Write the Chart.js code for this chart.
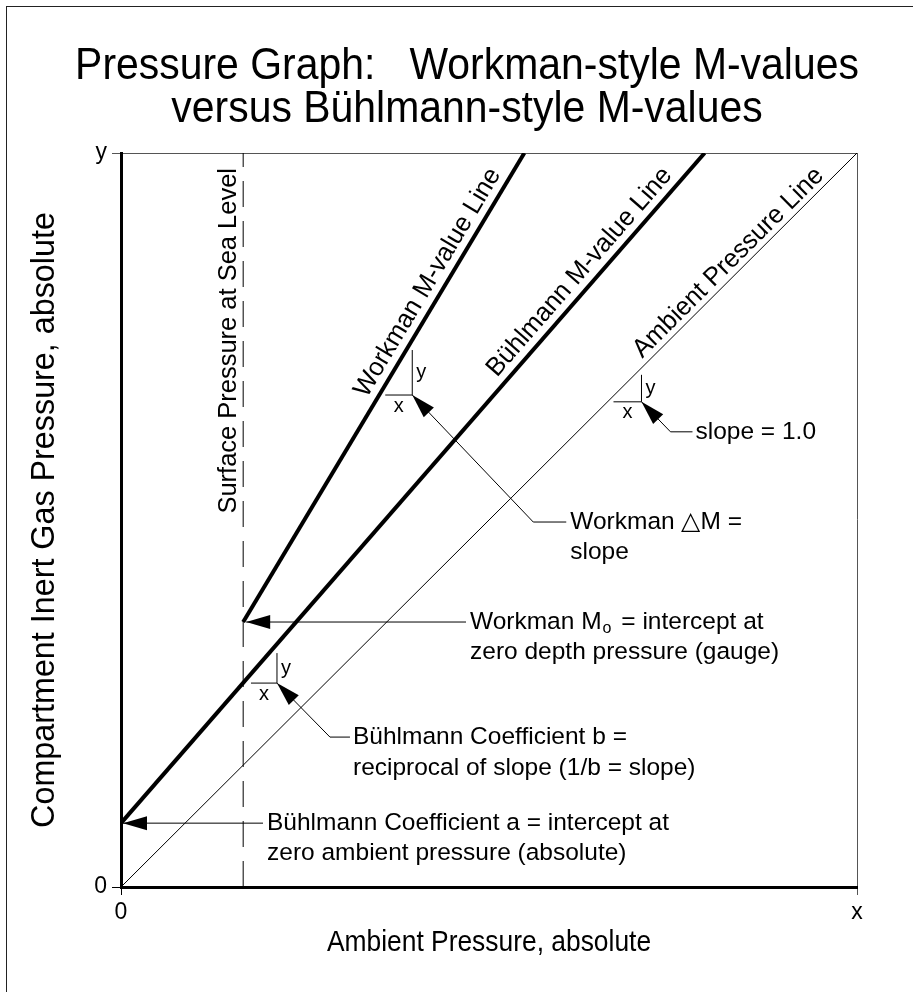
<!DOCTYPE html>
<html>
<head>
<meta charset="utf-8">
<title>Pressure Graph: Workman-style vs Bühlmann-style M-values</title>
<script src="https://cdn.jsdelivr.net/npm/chart.js@4.4.1/dist/chart.umd.min.js"></script>
<style>
  html, body { margin: 0; padding: 0; background: #fff; }
  canvas { display: block; }
</style>
</head>
<body>
<canvas id="pressureChart" width="913" height="992"></canvas>
<script>
// axes run 0..10 in arbitrary pressure units (the diagram has no scale)
const axisMin = 0;
const axisMax = 10;
const xTickValues = [0, 10];
const xTickLabels = ["0", "x"];
const yTickValues = [0, 10];
const yTickLabels = ["0", "y"];

const ambientX = [0, 10];
const ambientY = [0, 10];
const buhlmannX = [0, 7.93];
const buhlmannY = [0.87, 10];
const workmanX = [1.66, 5.48];
const workmanY = [3.61, 10];
const surfaceX = [1.66, 1.66];
const surfaceY = [0, 10];

const titleLines = [
  "Pressure Graph:   Workman-style M-values",
  "versus Bühlmann-style M-values",
];
const xTitle = "Ambient Pressure, absolute";
const yTitle = "Compartment Inert Gas Pressure, absolute";

const FONT = '"Liberation Sans", Arial, sans-serif';
Chart.defaults.font.family = FONT;
Chart.defaults.color = "#000";

const toPoints = (xs, ys) => xs.map((x, i) => ({ x: x, y: ys[i] }));

// ---- drawing helpers for titles and call-outs ----
const toPx = (chart, x, y) => ({
  x: chart.scales.x.getPixelForValue(x),
  y: chart.scales.y.getPixelForValue(y),
});
const alongLine = (chart, xs, ys, t) =>
  toPx(chart, xs[0] + (xs[1] - xs[0]) * t, ys[0] + (ys[1] - ys[0]) * t);

// text squeezed horizontally, like the narrow face of the original
function narrowText(ctx, text, x, y, size, sx, rot, align, baseline) {
  ctx.save();
  ctx.translate(x, y);
  ctx.rotate(rot);
  ctx.scale(sx, 1);
  ctx.font = size + "px " + FONT;
  ctx.textAlign = align;
  ctx.textBaseline = baseline;
  ctx.fillText(text, 0, 0);
  ctx.restore();
}

function arrowHead(ctx, tip, from, len, half) {
  const dx = tip.x - from.x, dy = tip.y - from.y;
  const d = Math.hypot(dx, dy);
  const ux = dx / d, uy = dy / d;
  const bx = tip.x - ux * len, by = tip.y - uy * len;
  ctx.beginPath();
  ctx.moveTo(tip.x, tip.y);
  ctx.lineTo(bx - uy * half, by + ux * half);
  ctx.lineTo(bx + uy * half, by - ux * half);
  ctx.closePath();
  ctx.fill();
}

function leader(ctx, pts) {
  ctx.beginPath();
  ctx.moveTo(pts[0].x, pts[0].y);
  pts.slice(1).forEach((p) => ctx.lineTo(p.x, p.y));
  ctx.stroke();
  arrowHead(ctx, pts[0], pts[1], 24, 7);
}

function slopeMarker(ctx, corner, hLen, vLen) {
  ctx.beginPath();
  ctx.moveTo(corner.x - hLen, corner.y);
  ctx.lineTo(corner.x, corner.y);
  ctx.lineTo(corner.x, corner.y - vLen);
  ctx.stroke();
  ctx.font = "20px " + FONT;
  ctx.textBaseline = "middle";
  ctx.textAlign = "center";
  ctx.fillText("x", corner.x - hLen / 2, corner.y + 11);
  ctx.textAlign = "left";
  ctx.fillText("y", corner.x + 4, corner.y - vLen / 2);
}

function textLines(ctx, lines, x, y, gap) {
  ctx.textAlign = "left";
  ctx.textBaseline = "middle";
  lines.forEach((parts, i) => {
    let cx = x;
    parts.forEach((p) => {
      ctx.font = (p.sub ? "16px " : "24.5px ") + FONT;
      cx += p.before || 0;
      ctx.fillText(p.text, cx, y + i * gap + (p.sub ? 7 : 0));
      cx += ctx.measureText(p.text).width + (p.after || 0);
    });
  });
}

function lineLabel(ctx, chart, text, xs, ys, t, offset) {
  const a = toPx(chart, xs[0], ys[0]);
  const b = toPx(chart, xs[1], ys[1]);
  const ang = Math.atan2(b.y - a.y, b.x - a.x);
  const p = alongLine(chart, xs, ys, t);
  narrowText(ctx, text, p.x + Math.sin(ang) * offset, p.y - Math.cos(ang) * offset,
    26, 0.98, ang, "right", "alphabetic");
}

const paperPlugin = {
  id: "paper",
  beforeDraw(chart) {
    const ctx = chart.ctx;
    ctx.save();
    ctx.fillStyle = "#fff";
    ctx.fillRect(0, 0, chart.width, chart.height);
    ctx.strokeStyle = "#222";
    ctx.lineWidth = 1;
    ctx.strokeRect(6.5, 6.5, chart.width + 20, chart.height + 20);
    ctx.restore();
  },
};

const titlesPlugin = {
  id: "titles",
  afterDraw(chart) {
    const ctx = chart.ctx;
    const area = chart.chartArea;
    ctx.save();
    ctx.fillStyle = "#000";
    narrowText(ctx, titleLines[0], 467, 79, 44, 0.93, 0, "center", "alphabetic");
    narrowText(ctx, titleLines[1], 467, 122, 44, 0.93, 0, "center", "alphabetic");
    narrowText(ctx, xTitle, (area.left + area.right) / 2, 943, 29, 0.91, 0, "center", "middle");
    narrowText(ctx, yTitle, 45, (area.top + area.bottom) / 2, 34, 0.95, -Math.PI / 2, "center", "middle");
    ctx.restore();
  },
};

const calloutPlugin = {
  id: "callouts",
  afterDatasetsDraw(chart) {
    const ctx = chart.ctx;
    ctx.save();
    ctx.fillStyle = "#000";
    ctx.strokeStyle = "#000";
    ctx.lineWidth = 1;

    // labels running along the lines
    lineLabel(ctx, chart, "Workman M-value Line", workmanX, workmanY, 0.945, 9);
    lineLabel(ctx, chart, "Bühlmann M-value Line", buhlmannX, buhlmannY, 0.957, 9);
    lineLabel(ctx, chart, "Ambient Pressure Line", ambientX, ambientY, 0.962, 6);

    // surface pressure label beside the dashed line
    const top = toPx(chart, surfaceX[1], surfaceY[1]);
    narrowText(ctx, "Surface Pressure at Sea Level", top.x - 7, top.y + 15, 26, 0.98,
      -Math.PI / 2, "right", "alphabetic");

    // slope triangles with their call-outs
    const wPt = alongLine(chart, workmanX, workmanY, 0.484);
    const wC = { x: wPt.x + 33, y: wPt.y };
    slopeMarker(ctx, wC, 27, 45);
    leader(ctx, [wC, { x: wC.x + 121, y: wC.y + 127 }, { x: wC.x + 154, y: wC.y + 127 }]);
    textLines(ctx, [[{ text: "Workman △M =" }], [{ text: "slope" }]], wC.x + 158, wC.y + 127, 30);

    const aPt = alongLine(chart, ambientX, ambientY, 0.661);
    const aC = { x: aPt.x + 34, y: aPt.y };
    slopeMarker(ctx, aC, 28, 27);
    leader(ctx, [aC, { x: aC.x + 29, y: aC.y + 30 }, { x: aC.x + 51, y: aC.y + 30 }]);
    textLines(ctx, [[{ text: "slope = 1.0" }]], aC.x + 54, aC.y + 30, 30);

    const bPt = alongLine(chart, buhlmannX, buhlmannY, 0.209);
    const bC = { x: bPt.x + 34, y: bPt.y };
    slopeMarker(ctx, bC, 26, 30);
    leader(ctx, [bC, { x: bC.x + 53, y: bC.y + 54 }, { x: bC.x + 73, y: bC.y + 54 }]);
    textLines(ctx, [
      [{ text: "Bühlmann Coefficient b =" }],
      [{ text: "reciprocal of slope (1/b = slope)" }],
    ], bC.x + 76, bC.y + 54, 31);

    // intercept call-outs
    const mo = toPx(chart, workmanX[0], workmanY[0]);
    const moTip = { x: mo.x + 3, y: mo.y };
    leader(ctx, [moTip, { x: 466, y: moTip.y }]);
    textLines(ctx, [
      [{ text: "Workman M" }, { text: "o", sub: true, before: 1, after: 3 }, { text: " = intercept at" }],
      [{ text: "zero depth pressure (gauge)" }],
    ], 470, moTip.y, 30);

    const ba = toPx(chart, buhlmannX[0], buhlmannY[0]);
    const baTip = { x: ba.x + 2, y: ba.y };
    leader(ctx, [baTip, { x: 263, y: baTip.y }]);
    textLines(ctx, [
      [{ text: "Bühlmann Coefficient a = intercept at" }],
      [{ text: "zero ambient pressure (absolute)" }],
    ], 267, baTip.y, 30);

    ctx.restore();
  },
};

const gridColor = (c) => (c.tick && c.tick.value === 0 ? "#000" : "#555");

new Chart(document.getElementById("pressureChart").getContext("2d"), {
  type: "scatter",
  data: {
    datasets: [
      { label: "Ambient Pressure Line", data: toPoints(ambientX, ambientY), showLine: true, borderColor: "#000", borderWidth: 1, pointRadius: 0 },
      { label: "Bühlmann M-value Line", data: toPoints(buhlmannX, buhlmannY), showLine: true, borderColor: "#000", borderWidth: 4, pointRadius: 0 },
      { label: "Workman M-value Line", data: toPoints(workmanX, workmanY), showLine: true, borderColor: "#000", borderWidth: 4, pointRadius: 0 },
      { label: "Surface Pressure at Sea Level", data: toPoints(surfaceX, surfaceY), showLine: true, borderColor: "#000", borderWidth: 1, borderDash: [26, 14], pointRadius: 0 },
    ],
  },
  options: {
    responsive: false,
    animation: false,
    layout: { padding: { left: 0, right: 56, top: 153, bottom: 0 } },
    plugins: {
      legend: { display: false },
      tooltip: { enabled: false },
      title: { display: false },
    },
    scales: {
      x: {
        type: "linear",
        min: axisMin,
        max: axisMax,
        afterBuildTicks: (s) => { s.ticks = xTickValues.map((v) => ({ value: v })); },
        afterFit: (s) => { s.height = 105; },
        ticks: {
          autoSkip: false,
          maxRotation: 0,
          padding: 4,
          color: "#000",
          font: { size: 23 },
          callback: (v) => xTickLabels[xTickValues.indexOf(v)],
        },
        grid: { color: gridColor, lineWidth: 1, tickLength: 8 },
        border: { color: "#000", width: 3 },
      },
      y: {
        type: "linear",
        min: axisMin,
        max: axisMax,
        afterBuildTicks: (s) => { s.ticks = yTickValues.map((v) => ({ value: v })); },
        afterFit: (s) => { s.width = 121; },
        ticks: {
          autoSkip: false,
          padding: 5,
          color: "#000",
          font: { size: 23 },
          callback: (v) => yTickLabels[yTickValues.indexOf(v)],
        },
        grid: { color: gridColor, lineWidth: 1, tickLength: 9 },
        border: { color: "#000", width: 3 },
      },
    },
  },
  plugins: [paperPlugin, calloutPlugin, titlesPlugin],
});
</script>
</body>
</html>
